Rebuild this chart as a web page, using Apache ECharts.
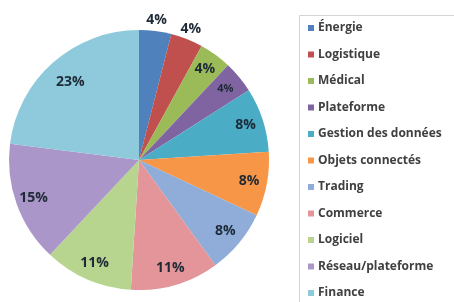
<!DOCTYPE html>
<html>
<head>
<meta charset="utf-8">
<script src="https://cdn.jsdelivr.net/npm/echarts@6/dist/echarts.min.js"></script>
<style>html,body{margin:0;padding:0;background:#fff}#c{width:454px;height:302px}</style>
</head>
<body>
<div id="c"></div>
<script>
const categories = ['Énergie','Logistique','Médical','Plateforme','Gestion des données','Objets connectés','Trading','Commerce','Logiciel','Réseau/plateforme','Finance'];
const values = [4,4,4,4,8,8,8,11,11,15,23];
const colors = ['#4F81BD','#C0504D','#9BBB59','#8064A2','#4BACC6','#F79646','#8FADD8','#E4959A','#B7D58F','#AA96C8','#8ECADB'];

const CX = 139, CY = 160, R = 130;
const chart = echarts.init(document.getElementById('c'), null, {renderer:'canvas'});
chart.setOption({
  backgroundColor:'#fff',
  animation:false,
  color: colors,
  graphic: [{
    type:'rect', left:297, top:13, silent:true,
    shape:{width:200, height:320},
    style:{fill:'none', stroke:'#d4d4d4', lineWidth:1}
  }],
  legend: {
    orient:'vertical',
    left: 300, top: 21,
    padding:[0,0,0,8],
    itemWidth:6, itemHeight:6, icon:'rect',
    itemGap: 12.5,
    textStyle:{fontFamily:'Open Sans', fontSize:12, fontWeight:'bold', color:'#404040', lineHeight:14, padding:[0,0,0,-1]},
    data: categories
  },
  series: [{
    type:'pie',
    center:[CX, CY], radius:R,
    startAngle:90, clockwise:true,
    avoidLabelOverlap:false,
    data: categories.map((n,i)=>({name:n, value:values[i], label: i===3 ? {fontSize:11} : undefined})),
    itemStyle:{borderWidth:0},
    label:{
      show:true, position:'inside',
      formatter: p => Math.round(p.value) + '%',
      fontFamily:'Open Sans', fontSize:14, fontWeight:'bold', color:'#1e2a36'
    },
    labelLine:{show:false},
    labelLayout: function(p){
      const lr = p.labelRect;
      const lx = lr.x + lr.width/2, ly = lr.y + lr.height/2;
      const dx = lx - CX, dy = ly - CY;
      const d = Math.sqrt(dx*dx+dy*dy) || 1;
      const rr = p.dataIndex < 2 ? 141 : (p.dataIndex === 10 ? 104 : 112);
      return {x: CX + dx/d*rr, y: CY + dy/d*rr, align:'center', verticalAlign:'middle'};
    }
  }]
});
</script>
</body>
</html>
